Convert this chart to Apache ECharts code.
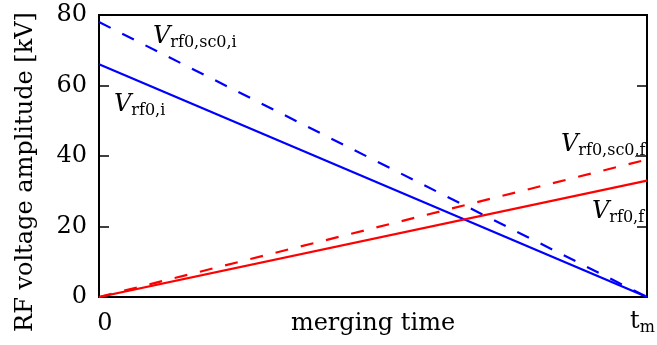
<!DOCTYPE html>
<html>
<head>
<meta charset="utf-8">
<script src="https://cdn.jsdelivr.net/npm/echarts@6/dist/echarts.min.js"></script>
<style>
  html, body { margin: 0; padding: 0; background: #fff; }
  #chart { width: 657px; height: 345px; }
</style>
</head>
<body>
<div id="chart"></div>
<script>
// Normalised merging time: 0 at start, 1 at t_m
const times = [0, 1];
// RF voltage amplitudes [kV] at start and end of merging
const vRf0I = [66, 0];       // initial harmonic, without space charge
const vRf0Sc0I = [78, 0];    // initial harmonic, with space charge
const vRf0F = [0, 33];       // final harmonic, without space charge
const vRf0Sc0F = [0, 39];    // final harmonic, with space charge
const yTicks = [0, 20, 40, 60, 80];

const FONT = '"DejaVu Serif", "Liberation Serif", serif';
const BLUE = '#0000ff';
const RED = '#ff0000';

function pairs(ys) { return times.map((t, i) => [t, ys[i]]); }

function line(name, ys, color, type) {
  return {
    name, type: 'line', data: pairs(ys), symbol: 'none', silent: true,
    lineStyle: { color, width: 2.2, type: type === 'dashed' ? [13, 13] : 'solid' },
    z: 3
  };
}

const richLabel = {
  v: { fontFamily: FONT, fontStyle: 'italic', fontSize: 24, lineHeight: 26, verticalAlign: 'top', fill: '#000' },
  s: { fontFamily: FONT, fontSize: 16, lineHeight: 20, padding: [10, 0, 0, 0], verticalAlign: 'top', fill: '#000' }
};

function annot(left, top, sub) {
  return {
    type: 'text', left, top,
    style: { text: '{v|V}{s|' + sub + '}', rich: richLabel, fill: '#000' },
    z: 10
  };
}

const chart = echarts.init(document.getElementById('chart'));
chart.setOption({
  animation: false,
  backgroundColor: '#fff',
  grid: { left: 99, right: 10, top: 15, bottom: 48, show: true, borderColor: '#000', borderWidth: 2, backgroundColor: 'transparent' },
  xAxis: {
    type: 'value', min: 0, max: 1, interval: 1,
    axisLine: { show: false }, axisTick: { show: false }, splitLine: { show: false },
    axisLabel: { show: false }
  },
  yAxis: [
    {
      type: 'value', min: 0, max: 80, interval: 20,
      axisLine: { show: false },
      axisTick: { show: true, inside: true, length: 10, lineStyle: { color: '#000', width: 1.5 } },
      splitLine: { show: false },
      axisLabel: { fontFamily: FONT, fontSize: 24, color: '#000', margin: 12,
        formatter: v => yTicks.includes(v) ? String(v) : '' }
    },
    {
      type: 'value', min: 0, max: 80, interval: 20, position: 'right',
      axisLine: { show: false },
      axisTick: { show: true, inside: true, length: 10, lineStyle: { color: '#000', width: 1.5 } },
      splitLine: { show: false }, axisLabel: { show: false }
    }
  ],
  series: [
    line('Vrf0,sc0,i', vRf0Sc0I, BLUE, 'dashed'),
    line('Vrf0,i', vRf0I, BLUE, 'solid'),
    line('Vrf0,sc0,f', vRf0Sc0F, RED, 'dashed'),
    line('Vrf0,f', vRf0F, RED, 'solid')
  ],
  graphic: [
    annot(153, 25, 'rf0,sc0,i'),
    annot(114, 93, 'rf0,i'),
    annot(561, 133, 'rf0,sc0,f'),
    annot(592, 200, 'rf0,f'),
    {
      type: 'text', x: 26, y: 172,
      rotation: Math.PI / 2,
      style: { text: 'RF voltage amplitude [kV]', fontFamily: FONT, fontSize: 24, fill: '#000', align: 'center', verticalAlign: 'middle' }
    },
    { type: 'text', x: 105, y: 324, style: { text: '0', fontFamily: FONT, fontSize: 24, fill: '#000', align: 'center', verticalAlign: 'middle' } },
    { type: 'text', x: 373, y: 324, style: { text: 'merging time', fontFamily: FONT, fontSize: 24, fill: '#000', align: 'center', verticalAlign: 'middle' } },
    { type: 'text', left: 630, top: 310, style: { text: '{t|t}{s|m}', rich: {
        t: { fontFamily: FONT, fontSize: 24, lineHeight: 26, verticalAlign: 'top', fill: '#000' },
        s: { fontFamily: FONT, fontSize: 16, lineHeight: 20, padding: [10, 0, 0, 0], verticalAlign: 'top', fill: '#000' }
      } } }
  ]
});
</script>
</body>
</html>
